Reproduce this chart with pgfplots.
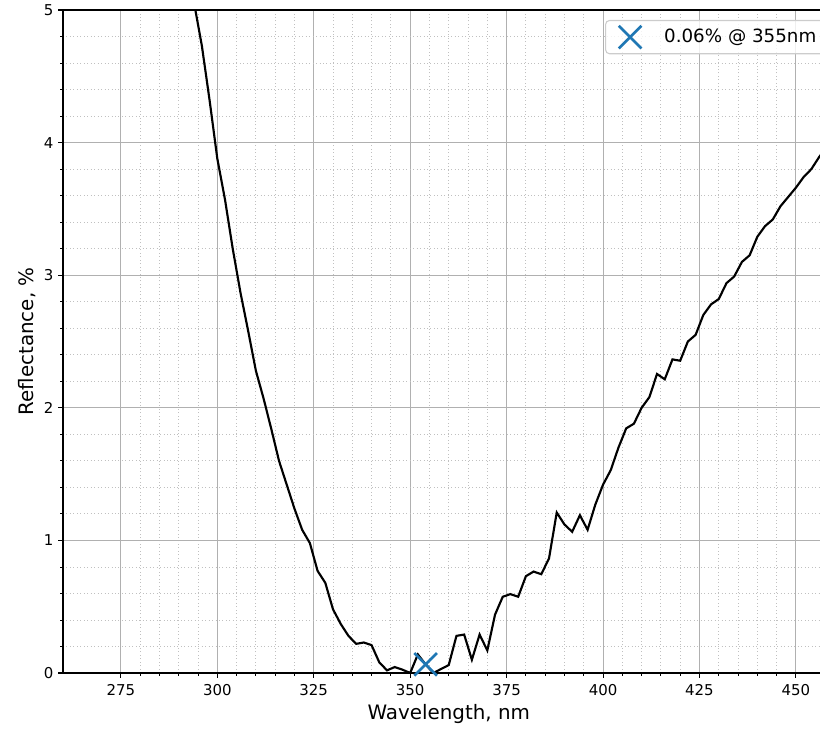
\documentclass[border=0pt]{standalone}
\usepackage{pgfplots}
\pgfplotsset{compat=1.18}
\usepackage{fontspec}
\setmainfont{DejaVu Sans}
\definecolor{mplblue}{HTML}{1F77B4}
\definecolor{gridgray}{HTML}{B0B0B0}
\definecolor{leggray}{HTML}{CCCCCC}
\begin{document}
\begin{tikzpicture}
\begin{axis}[
  at={(47.25pt,41.25pt)}, anchor=south west,
  scale only axis, width=578.6pt, height=497.25pt,
  xmin=260, xmax=460, ymin=0, ymax=5,
  xtick={275,300,...,450}, ytick={0,1,...,5},
  minor x tick num=4, minor y tick num=4,
  xtick pos=left, ytick pos=left, tick align=outside,
  major tick length=3.6pt, minor tick length=2pt,
  every tick/.style={black, line width=0.8pt},
  every minor tick/.style={black, line width=0.6pt},
  axis line style={black, line width=1.2pt},
  grid=both,
  major grid style={gridgray, line width=0.8pt, solid},
  minor grid style={gridgray!80, line width=0.6pt, dotted},
  /pgf/number format/assume math mode=true,
  ticklabel style={font=\fontsize{11.2}{13}\selectfont},
  xticklabel style={yshift=-1.5pt},
  scaled ticks=false,
  xticklabel style={/pgf/number format/1000 sep={}},
  xlabel={Wavelength, nm}, ylabel={Reflectance, \%},
  every axis x label/.style={at={(axis description cs:0.5,-0.0618)}, anchor=center, font=\fontsize{14.9}{17}\selectfont},
  every axis y label/.style={at={(axis description cs:-0.0467,0.5)}, anchor=center, rotate=90, font=\fontsize{14.9}{17}\selectfont},
  legend style={at={(axis description cs:0.7026,0.985)}, anchor=north west,
    draw=leggray, fill=white, fill opacity=0.8, text opacity=1, rounded corners=3pt,
    inner xsep=10pt, inner ysep=4pt, line width=0.8pt,
    font=\fontsize{13.7}{16}\selectfont,
    nodes={inner sep=2pt},
    /tikz/every odd column/.append style={column sep=15pt}},
]
\addplot[black, line width=1.6pt, mark=none, forget plot] coordinates {
(292,5.40) (294,5.05) (296,4.73) (298,4.32) (300,3.88) (302,3.57) (304,3.20) (306,2.87)
(308,2.58) (310,2.28) (312,2.07) (314,1.84) (316,1.60) (318,1.42) (320,1.24) (322,1.08)
(324,0.98) (326,0.77) (328,0.68) (330,0.48) (332,0.37) (334,0.28) (336,0.22) (338,0.23)
(340,0.21) (342,0.08) (344,0.02) (346,0.045) (348,0.025) (350,0.00) (352,0.14) (354,0.065)
(356,0.00) (358,0.03) (360,0.06) (362,0.28) (364,0.29) (366,0.10) (368,0.29) (370,0.17)
(372,0.44) (374,0.575) (376,0.595) (378,0.575) (380,0.73) (382,0.765) (384,0.745) (386,0.865)
(388,1.21) (390,1.12) (392,1.065) (394,1.19) (396,1.08) (398,1.27) (400,1.42) (402,1.53)
(404,1.70) (406,1.845) (408,1.88) (410,2.00) (412,2.08) (414,2.255) (416,2.215) (418,2.365)
(420,2.355) (422,2.50) (424,2.55) (426,2.70) (428,2.78) (430,2.82) (432,2.94) (434,2.99)
(436,3.10) (438,3.15) (440,3.29) (442,3.37) (444,3.42) (446,3.52) (448,3.59) (450,3.66)
(452,3.74) (454,3.80) (456,3.89) (458,3.97) (460,4.03)
};
\addplot[only marks, mark=x, mark size=12pt, mplblue, line width=2pt, mark options={solid}] coordinates {(354,0.065)};
\addlegendentry{0.06\% @ 355nm}
\end{axis}
\pgfresetboundingbox
\path[use as bounding box] (0,0) rectangle (615pt,546pt);
\end{tikzpicture}
\end{document}
